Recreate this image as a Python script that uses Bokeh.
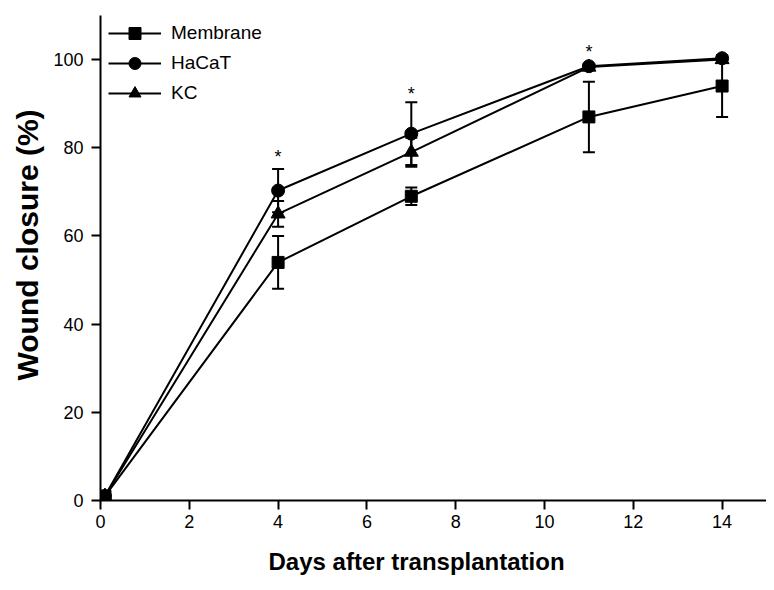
from bokeh.plotting import figure
from bokeh.models import (Range1d, FixedTicker, Legend, LegendItem, Whisker,
                          ColumnDataSource, Title)
from bokeh.core.properties import value
from bokeh.embed import file_html
from bokeh.resources import INLINE

# ---- data ----
days = [0.1, 4, 7, 11, 14]
membrane = [1, 54, 69, 87, 94]
membrane_err = [0, 6, 2, 8, 7]
hacat = [1, 70.3, 83.2, 98.5, 100.3]
hacat_err = [0, 4.9, 7.1, 0, 0]
kc = [1, 65, 79, 98.3, 100]
kc_err = [0, 2.9, 3.3, 0, 0]
star_days = [4, 7, 11]
star_vals = [80.2, 94.5, 104]
x_ticks = [0, 2, 4, 6, 8, 10, 12, 14]
y_ticks = [0, 20, 40, 60, 80, 100]
x_title = "Days after transplantation"
y_title = "Wound closure (%)"

FONT = "Liberation Sans"

p = figure(width=766, height=590, output_backend="svg", toolbar_location=None,
           x_range=Range1d(0, 15), y_range=Range1d(0, 110),
           min_border_left=100, min_border_top=15, min_border_right=0, min_border_bottom=90)
p.outline_line_color = None
p.grid.visible = False
p.background_fill_color = "white"

for ax in (p.xaxis[0], p.yaxis[0]):
    ax.axis_line_width = 2
    ax.axis_line_color = "black"
    ax.major_tick_line_width = 2
    ax.major_tick_line_color = "black"
    ax.major_tick_out = 9
    ax.major_tick_in = 0
    ax.minor_tick_line_color = None
    ax.major_label_text_font = FONT
    ax.major_label_text_font_size = "18px"
    ax.major_label_text_color = "black"

p.xaxis.ticker = FixedTicker(ticks=x_ticks)
p.yaxis.ticker = FixedTicker(ticks=y_ticks)
p.xaxis.major_label_standoff = 5
p.yaxis.major_label_standoff = 8

# axis titles (placed off-centre, as in the reference)
p.add_layout(Title(text=x_title, align="left", offset=168, standoff=31,
                   text_font=FONT, text_font_size="24px", text_font_style="bold",
                   text_color="black"), "below")
p.add_layout(Title(text=y_title, align="left", offset=120, standoff=14,
                   text_font=FONT, text_font_size="30px", text_font_style="bold",
                   text_color="black"), "left")

series = [
    ("Membrane", membrane, membrane_err, "square", 12),
    ("HaCaT", hacat, hacat_err, "circle", 13),
    ("KC", kc, kc_err, "triangle", 14),
]

items = []
for name, vals, errs, marker, size in series:
    src = ColumnDataSource(dict(x=days, y=vals,
                                lo=[v - e for v, e in zip(vals, errs)],
                                hi=[v + e for v, e in zip(vals, errs)]))
    w = Whisker(source=src, base="x", lower="lo", upper="hi",
                line_color="black", line_width=2)
    w.upper_head.size = 12
    w.lower_head.size = 12
    w.upper_head.line_width = 2
    w.lower_head.line_width = 2
    p.add_layout(w)
    ln = p.line("x", "y", source=src, line_color="black", line_width=2)
    mk = p.scatter("x", "y", source=src, marker=marker, size=size,
                   fill_color="black", line_color="black")
    items.append(LegendItem(label=name, renderers=[ln, mk]))

p.text(x=star_days, y=star_vals, text=["*"] * len(star_days),
       text_font=value(FONT), text_font_size="18px", text_color="black",
       text_align="center", text_baseline="alphabetic", y_offset=10)

legend = Legend(items=items, location=(8, 392), orientation="vertical",
                glyph_width=53, glyph_height=30, label_height=30,
                spacing=0, padding=0, margin=0, label_standoff=10,
                label_text_font=FONT, label_text_font_size="19px",
                label_text_color="black",
                border_line_color=None, background_fill_alpha=0)
p.add_layout(legend)

open("out.html", "w").write(file_html(p, INLINE))
